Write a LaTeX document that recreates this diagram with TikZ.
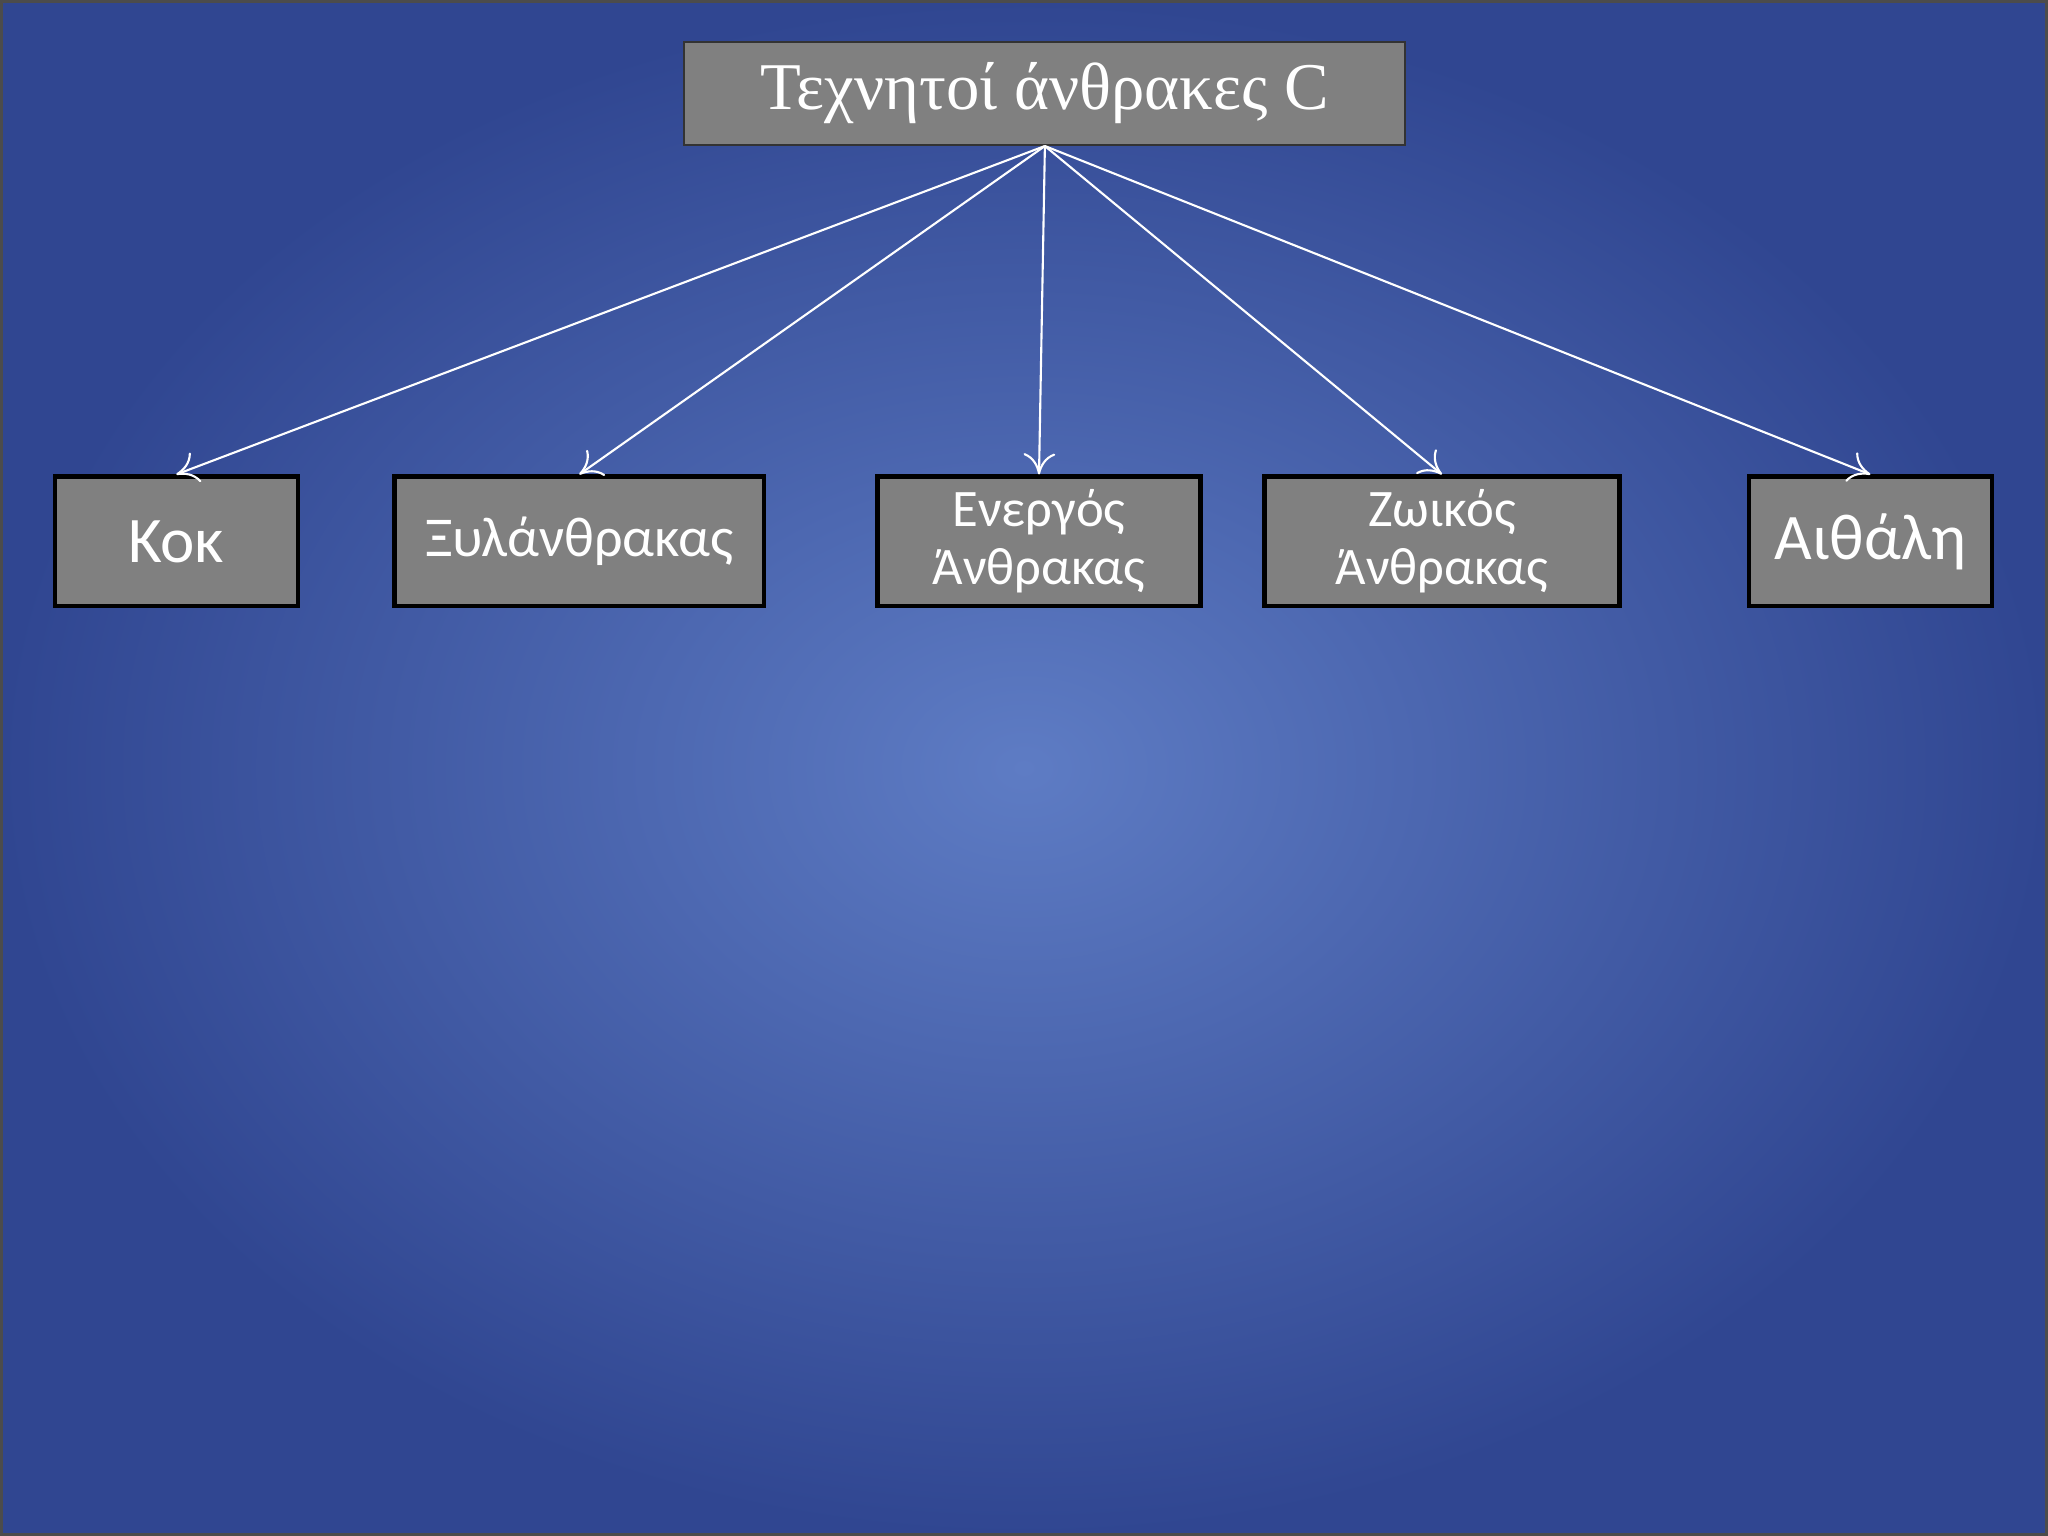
\documentclass[tikz,border=0pt]{standalone}
\usepackage{fontspec}
\setmainfont{Carlito}
\newfontfamily\serifgr{Liberation Serif}
\usetikzlibrary{arrows.meta}
\definecolor{boxgray}{HTML}{808080}
\begin{document}
\begin{tikzpicture}[x=0.013061cm,y=-0.013061cm,
  cbox/.style={draw=black,line width=1.3pt,fill=boxgray,text=white,align=center,inner sep=0pt},
  conn/.style={draw=white,line width=0.6pt,-{To[length=6pt,width=9pt]}}]
\useasboundingbox (0,0) rectangle (1568,1176);
\shade[inner color={rgb,255:red,94;green,124;blue,196},outer color={rgb,255:red,48;green,70;blue,145}] (0,0) rectangle (1568,1176);
\draw[black!70,line width=1pt] (1,1) rectangle (1567,1175);
\node[draw=black!80,line width=0.6pt,fill=boxgray,text=white,minimum width=552*0.013061cm,minimum height=79*0.013061cm,font=\serifgr\fontsize{19}{22}\selectfont] (top) at (800,71.5) {Τεχνητοί άνθρακες C};
\node[cbox,minimum width=186*0.013061cm,minimum height=99*0.013061cm,font=\fontsize{18.5}{22}\selectfont] (kok) at (135,414.5) {Κοκ};
\node[cbox,minimum width=283*0.013061cm,minimum height=99*0.013061cm,font=\fontsize{16}{19}\selectfont] (xyl) at (443.5,414.5) {Ξυλάνθρακας};
\node[cbox,minimum width=247*0.013061cm,minimum height=99*0.013061cm,font=\fontsize{15}{16.5}\selectfont] (en) at (795.5,414.5) {Ενεργός\\Άνθρακας};
\node[cbox,minimum width=272*0.013061cm,minimum height=99*0.013061cm,font=\fontsize{15}{16.5}\selectfont] (zo) at (1104,414.5) {Ζωικός\\Άνθρακας};
\node[cbox,minimum width=186*0.013061cm,minimum height=99*0.013061cm,font=\fontsize{18.5}{22}\selectfont] (ai) at (1432,414.5) {Αιθάλη};
\draw[conn] (top.south) -- (kok.north);
\draw[conn] (top.south) -- (xyl.north);
\draw[conn] (top.south) -- (en.north);
\draw[conn] (top.south) -- (zo.north);
\draw[conn] (top.south) -- (ai.north);
\end{tikzpicture}
\end{document}
